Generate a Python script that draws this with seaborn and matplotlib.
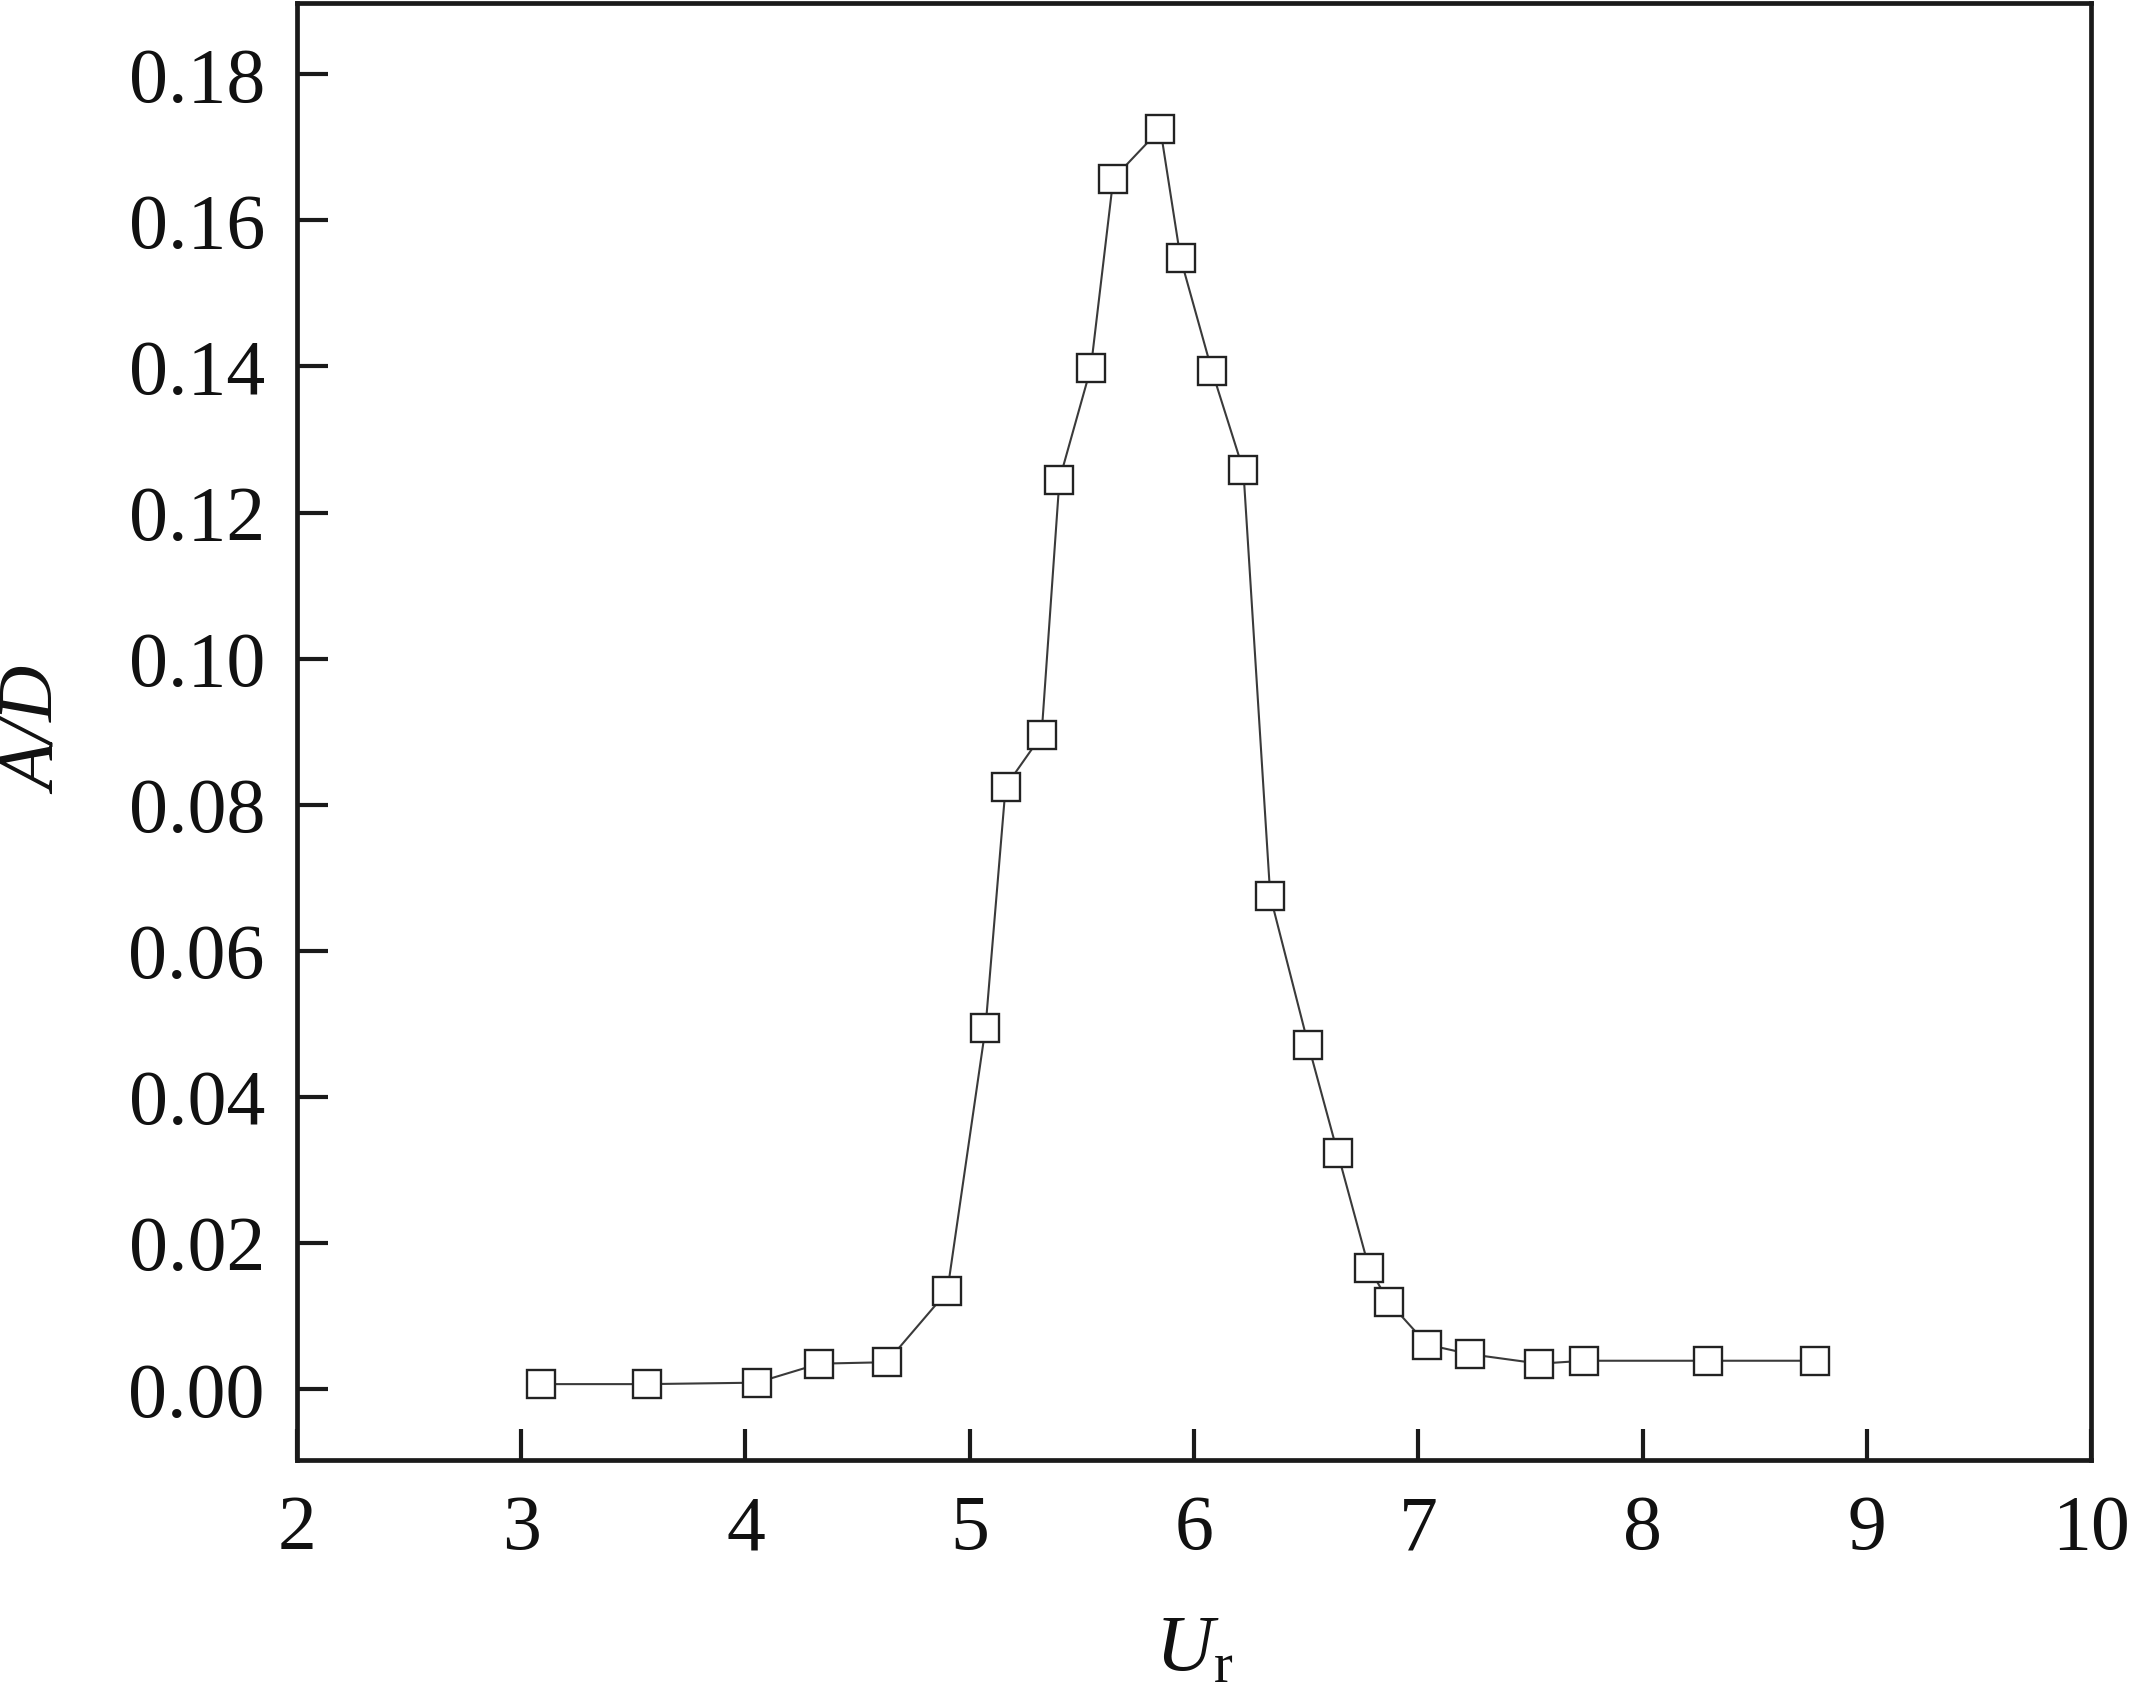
import numpy as np
import pandas as pd
import matplotlib
matplotlib.use("Agg")
import matplotlib.pyplot as plt
import seaborn as sns

# reduced velocity and amplitude ratio
ur = [3.09, 3.56, 4.05, 4.33, 4.63, 4.90, 5.07, 5.16, 5.32, 5.40, 5.54, 5.64, 5.85, 5.94,
      6.08, 6.22, 6.34, 6.51, 6.64, 6.78, 6.87, 7.04, 7.23, 7.54, 7.74, 8.29, 8.77]
ad = [0.0007, 0.0007, 0.0009, 0.0035, 0.0037, 0.0134, 0.0494, 0.0825, 0.0895, 0.1245, 0.1398,
      0.1657, 0.1725, 0.1548, 0.1394, 0.1258, 0.0675, 0.0471, 0.0324, 0.0166, 0.0119, 0.0061,
      0.0048, 0.0035, 0.0039, 0.0039, 0.0039]
xticks = [2, 3, 4, 5, 6, 7, 8, 9, 10]
yticks = [0.00, 0.02, 0.04, 0.06, 0.08, 0.10, 0.12, 0.14, 0.16, 0.18]

df = pd.DataFrame({"Ur": ur, "AD": ad})

sns.set_style("ticks")
plt.rcParams["font.family"] = ["Liberation Serif", "DejaVu Serif"]
plt.rcParams["mathtext.fontset"] = "custom"
plt.rcParams["mathtext.rm"] = "Liberation Serif"
plt.rcParams["mathtext.it"] = "Liberation Serif:italic"
plt.rcParams["text.color"] = "#111111"
plt.rcParams["axes.labelcolor"] = "#111111"
plt.rcParams["xtick.color"] = "#111111"
plt.rcParams["ytick.color"] = "#111111"

fig = plt.figure(figsize=(21.36, 16.87), dpi=100)
ax = fig.add_axes([0.139, 0.1345, 0.840, 0.8635])

sns.lineplot(data=df, x="Ur", y="AD", ax=ax, sort=False, color="#3a3a3a", linewidth=1.5,
             marker="s", markersize=20, markerfacecolor="white", markeredgecolor="#222222",
             markeredgewidth=1.7)

ax.set_xlim(2, 10)
ax.set_ylim(-0.0097, 0.1897)
ax.set_xticks(xticks)
ax.set_xticklabels([str(t) for t in xticks])
ax.set_yticks(yticks)
ax.set_yticklabels([f"{t:.2f}" for t in yticks])

for s in ax.spines.values():
    s.set_linewidth(3.4)
    s.set_color("#1a1a1a")

ax.tick_params(axis="both", direction="in", length=22, width=3, color="#1a1a1a",
               labelsize=56, top=False, right=False)
ax.tick_params(axis="x", pad=25)
ax.tick_params(axis="y", pad=23)

ax.set_xlabel(r"$\mathit{U}_\mathrm{r}$", fontsize=58, labelpad=36)
ax.set_ylabel("A/D", fontsize=56, fontstyle="italic", labelpad=40)

fig.savefig("out.png", dpi=100)
